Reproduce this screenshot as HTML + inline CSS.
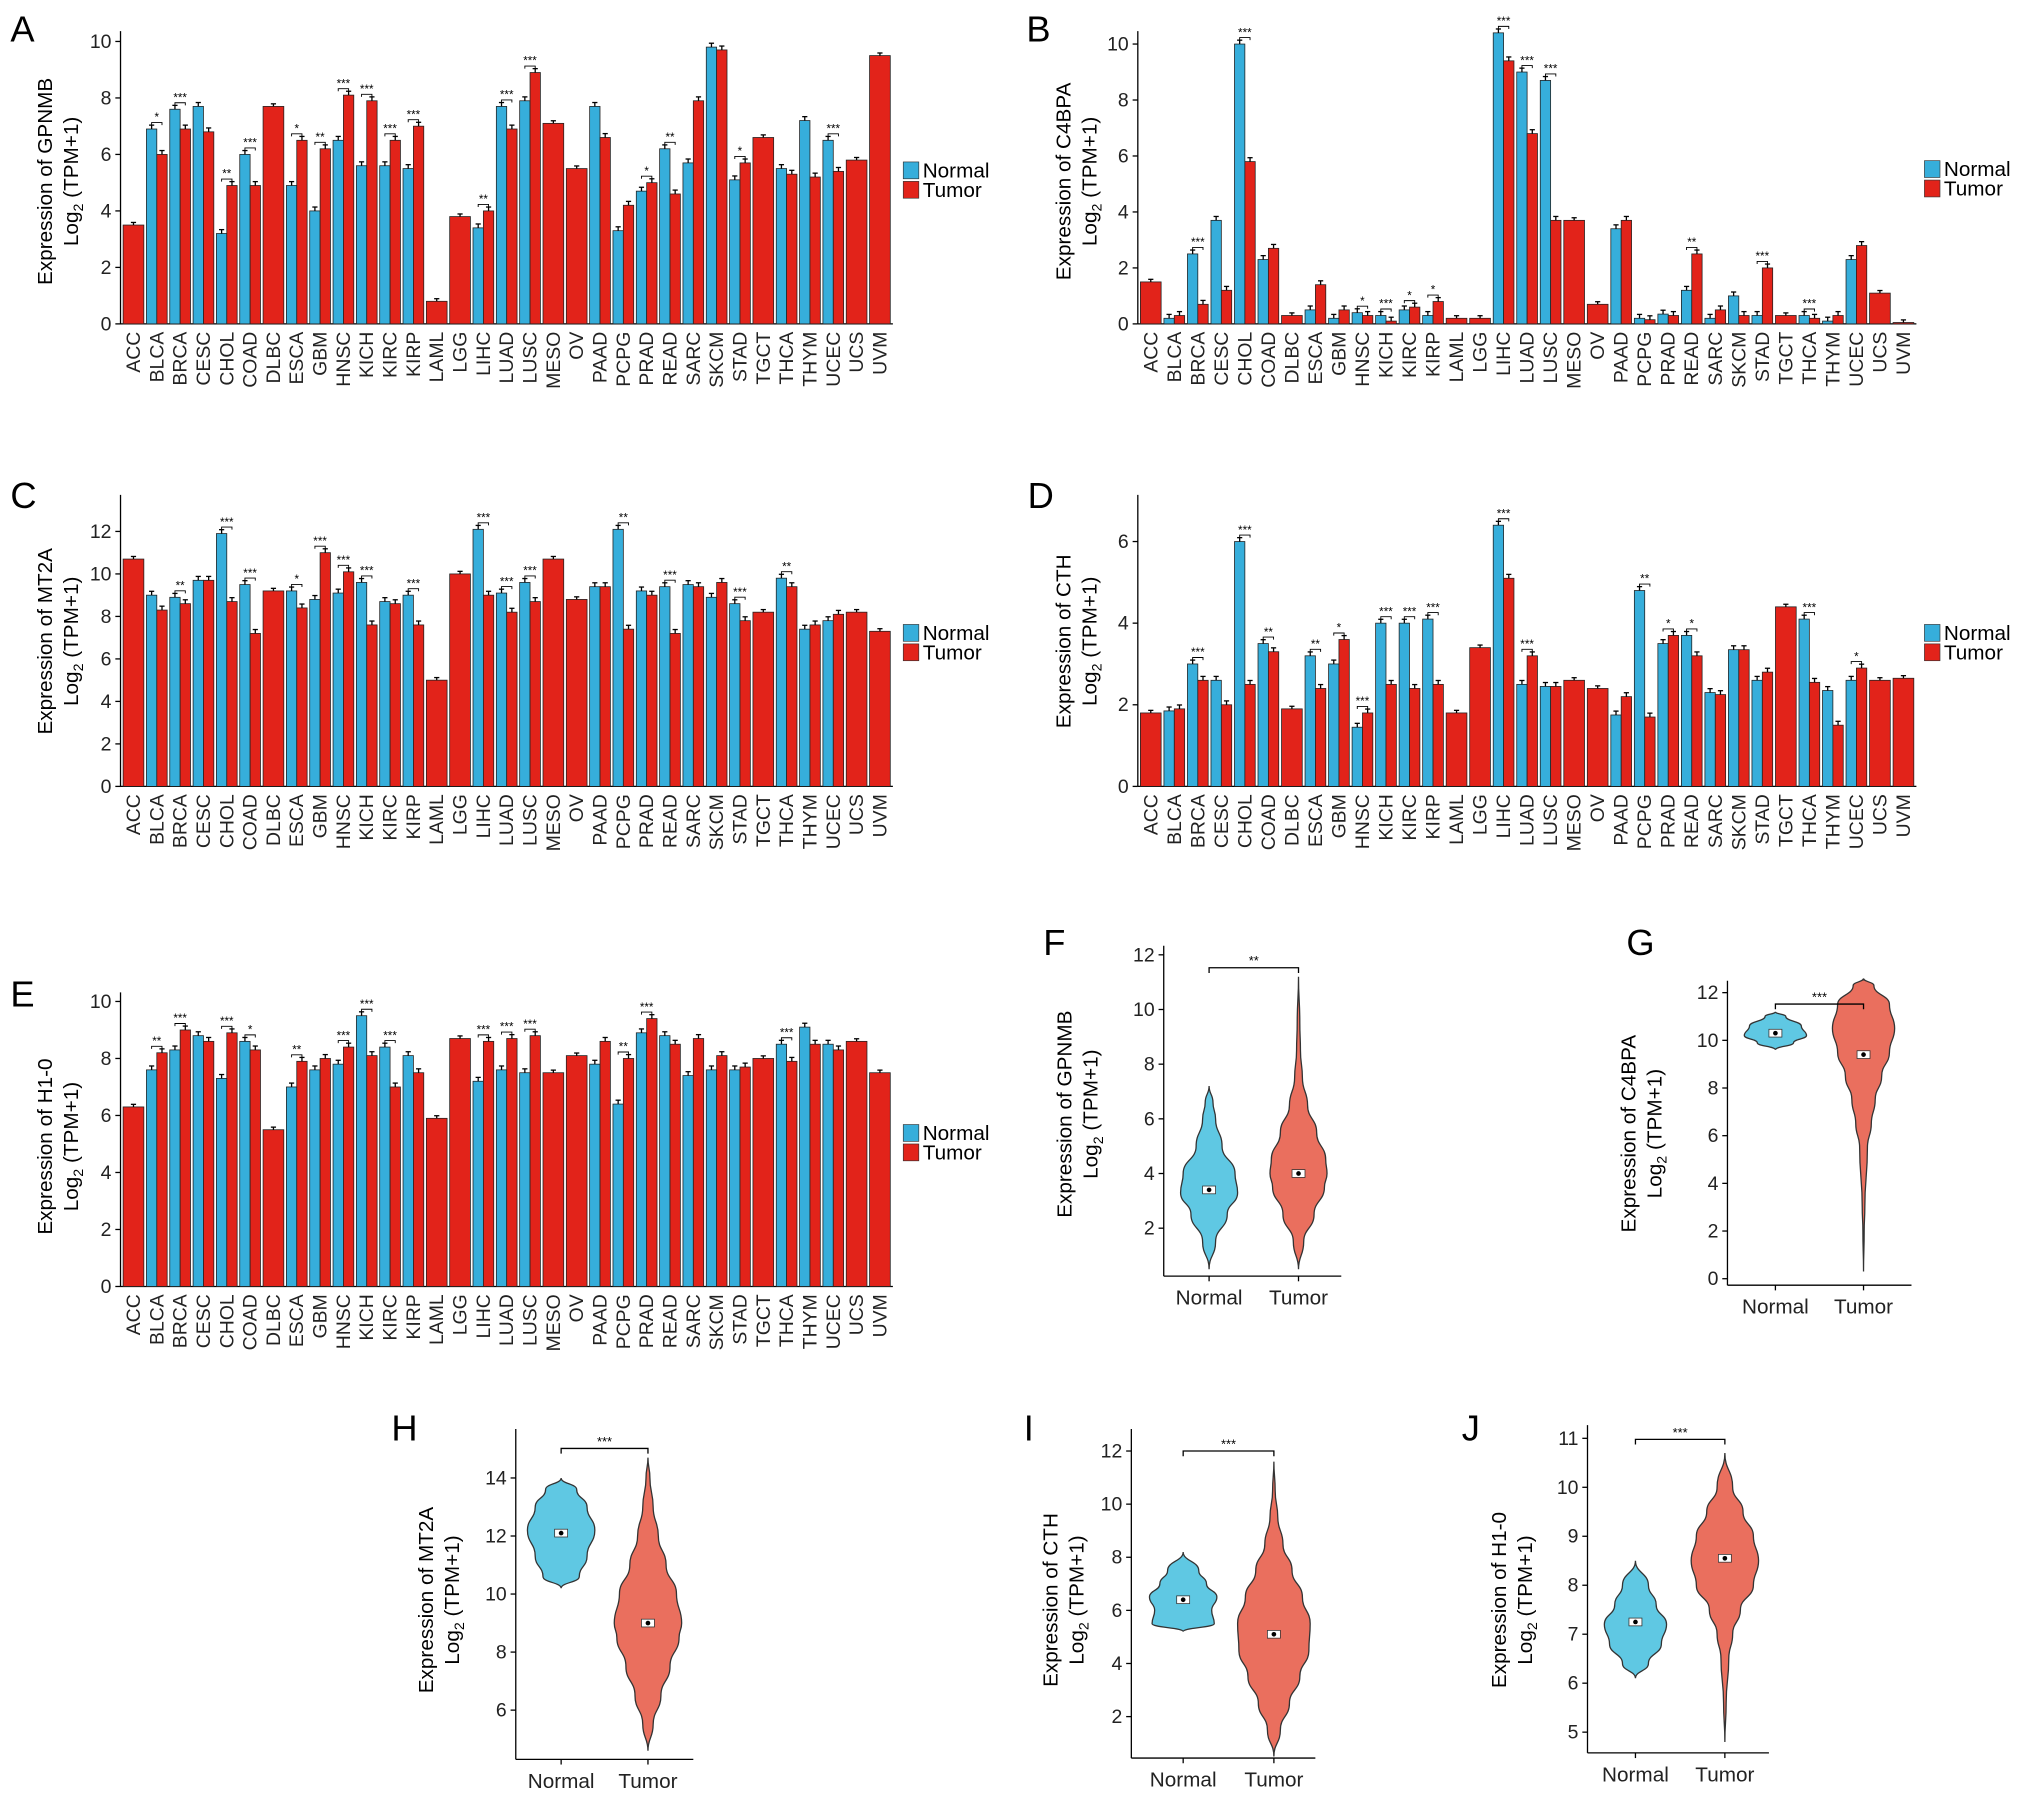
<!DOCTYPE html>
<html><head><meta charset="utf-8"><title>Expression panels</title>
<style>
html,body{margin:0;padding:0;background:#fff;}
svg{display:block;font-family:"Liberation Sans",Arial,sans-serif;}
</style></head>
<body>
<svg id="fig" width="2032" height="1806" viewBox="0 0 1568 1394" preserveAspectRatio="none" xmlns="http://www.w3.org/2000/svg"></svg>
<script>
const cats=["ACC","BLCA","BRCA","CESC","CHOL","COAD","DLBC","ESCA","GBM","HNSC","KICH","KIRC","KIRP","LAML","LGG","LIHC","LUAD","LUSC","MESO","OV","PAAD","PCPG","PRAD","READ","SARC","SKCM","STAD","TGCT","THCA","THYM","UCEC","UCS","UVM"];
const n=null;
// Panel A GPNMB
const aNormal=[n,6.9,7.6,7.7,3.2,6.0,n,4.9,4.0,6.5,5.6,5.6,5.5,n,n,3.4,7.7,7.9,n,n,7.7,3.3,4.7,6.2,5.7,9.8,5.1,n,5.5,7.2,6.5,n,n];
const aTumor=[3.5,6.0,6.9,6.8,4.9,4.9,7.7,6.5,6.2,8.1,7.9,6.5,7.0,0.8,3.8,4.0,6.9,8.9,7.1,5.5,6.6,4.2,5.0,4.6,7.9,9.7,5.7,6.6,5.3,5.2,5.4,5.8,9.5];
const aSig=["","*","***","","**","***","","*","**","***","***","***","***","","","**","***","***","","","","","*","**","","","*","","","","***","",""];
// Panel B C4BPA
const bNormal=[n,0.2,2.5,3.7,10.0,2.3,n,0.5,0.2,0.4,0.3,0.5,0.3,n,n,10.4,9.0,8.7,n,n,3.4,0.2,0.35,1.2,0.2,1.0,0.3,n,0.3,0.1,2.3,n,n];
const bTumor=[1.5,0.3,0.7,1.2,5.8,2.7,0.3,1.4,0.5,0.3,0.1,0.6,0.8,0.2,0.2,9.4,6.8,3.7,3.7,0.7,3.7,0.15,0.3,2.5,0.5,0.3,2.0,0.3,0.2,0.3,2.8,1.1,0.05];
const bSig=["","","***","","***","","","","","*","***","*","*","","","***","***","***","","","","","","**","","","***","","***","","","",""];
// Panel C MT2A
const cNormal=[n,9.0,8.9,9.7,11.9,9.5,n,9.2,8.8,9.1,9.6,8.7,9.0,n,n,12.1,9.1,9.6,n,n,9.4,12.1,9.2,9.4,9.5,8.9,8.6,n,9.8,7.4,7.8,n,n];
const cTumor=[10.7,8.3,8.6,9.7,8.7,7.2,9.2,8.4,11.0,10.1,7.6,8.6,7.6,5.0,10.0,9.0,8.2,8.7,10.7,8.8,9.4,7.4,9.0,7.2,9.4,9.6,7.8,8.2,9.4,7.6,8.1,8.2,7.3];
const cSig=["","","**","","***","***","","*","***","***","***","","***","","","***","***","***","","","","**","","***","","","***","","**","","","",""];
// Panel D CTH
const dNormal=[n,1.85,3.0,2.6,6.0,3.5,n,3.2,3.0,1.45,4.0,4.0,4.1,n,n,6.4,2.5,2.45,n,n,1.75,4.8,3.5,3.7,2.3,3.35,2.6,n,4.1,2.35,2.6,n,n];
const dTumor=[1.8,1.9,2.6,2.0,2.5,3.3,1.9,2.4,3.6,1.8,2.5,2.4,2.5,1.8,3.4,5.1,3.2,2.45,2.6,2.4,2.2,1.7,3.7,3.2,2.25,3.35,2.8,4.4,2.55,1.5,2.9,2.6,2.65];
const dSig=["","","***","","***","**","","**","*","***","***","***","***","","","***","***","","","","","**","*","*","","","","","***","","*","",""];
// Panel E H1-0
const eNormal=[n,7.6,8.3,8.8,7.3,8.6,n,7.0,7.6,7.8,9.5,8.4,8.1,n,n,7.2,7.6,7.5,n,n,7.8,6.4,8.9,8.8,7.4,7.6,7.6,n,8.5,9.1,8.5,n,n];
const eTumor=[6.3,8.2,9.0,8.6,8.9,8.3,5.5,7.9,8.0,8.4,8.1,7.0,7.5,5.9,8.7,8.6,8.7,8.8,7.5,8.1,8.6,8.0,9.4,8.5,8.7,8.1,7.7,8.0,7.9,8.5,8.3,8.6,7.5];
const eSig=["","**","***","","***","*","","**","","***","***","***","","","","***","***","***","","","","**","***","","","","","","***","","","",""];
const ticksA=[0,2,4,6,8,10], ticksB=[0,2,4,6,8,10], ticksC=[0,2,4,6,8,10,12], ticksD=[0,2,4,6], ticksE=[0,2,4,6,8,10];

// Violin data: value grid and relative widths
const fNv=[0.5,1.5,2.5,3.3,4,5,6,6.6,7.2], fNw=[0,5,14,22,20,10,5,3,0];
const fTv=[0.5,1.5,2.5,3.5,4,4.5,5.5,6.5,7.5,8.5,9.5,11.2], fTw=[0,4,12,20,22,21,14,7,3,1.5,1,0];
const gNv=[9.6,9.9,10.2,10.6,11,11.2], gNw=[0,14,24,20,8,0];
const gTv=[0.3,2,3,5.5,6.5,7.5,8.5,9.5,10.5,11.5,12.3,12.6], gTw=[0,0.5,1,3,6,9,14,20,24,20,8,0];
const hNv=[10.2,10.6,11.3,12.2,13,13.6,14], hNw=[0,14,20,26,20,12,0];
const hTv=[4.6,5.5,6.5,7.5,8.5,9,10,11,12,13,14,14.7], hTw=[0,4,10,17,24,26,22,14,8,4,1.5,0];
const iNv=[5.2,5.5,6,6.5,7,7.5,8.2], iNw=[0,24,22,26,18,12,0];
const iTv=[0.5,1.5,2.5,3.5,4.5,5.5,6.5,7.5,8.5,9.5,10.5,11.6], iTw=[0,5,12,20,27,28,22,14,7,3,1,0];
const jNv=[6.1,6.4,6.8,7.2,7.6,8,8.5], jNw=[0,10,20,24,16,10,0];
const jTv=[4.8,5.6,6.5,7,7.5,8,8.5,9,9.5,10,10.7], jTw=[0,1,3,6,12,22,26,22,14,6,0];
const medians={f:[3.4,4.0],g:[10.3,9.4],h:[12.1,9.0],i:[6.4,5.1],j:[7.25,8.55]};

const NS="http://www.w3.org/2000/svg";
const svg=document.getElementById('fig');
const BLUE="#36AEDB", RED="#E2231A", VBLUE="#5FC8E3", VRED="#EA6F5E";
function el(tag,attrs,parent){const e=document.createElementNS(NS,tag);for(const k in attrs)e.setAttribute(k,attrs[k]);(parent||svg).appendChild(e);return e;}
function txt(s,attrs,parent){const e=el('text',attrs,parent);e.textContent=s;return e;}

function yTitle(gene,x,yc,g){
  const t1=txt('Expression of '+gene,{x:0,y:0,'font-size':16,'text-anchor':'middle',transform:`translate(${x},${yc}) rotate(-90)`},g);
  
  
  const t2=el('text',{x:0,y:0,'font-size':16,'text-anchor':'middle',transform:`translate(${x+20},${yc}) rotate(-90)`},g);
  
  
  const a=document.createElementNS(NS,'tspan');a.textContent='Log';t2.appendChild(a);
  const b=document.createElementNS(NS,'tspan');b.textContent='2';b.setAttribute('font-size',11);b.setAttribute('dy',4);t2.appendChild(b);
  const c=document.createElementNS(NS,'tspan');c.textContent=' (TPM+1)';c.setAttribute('dy',-4);t2.appendChild(c);
}
function panelLetter(s,x,y){const t=txt(s,{x:x,y:y,'font-size':28});}
function legend(x,y,g){
  const lg=el('g',{},g);
  
  
  el('rect',{x:x,y:y,width:12,height:13,fill:BLUE,stroke:'#333','stroke-width':0.5},lg);
  txt('Normal',{x:x+15,y:y+12,'font-size':16},lg);
  el('rect',{x:x,y:y+15,width:12,height:13,fill:RED,stroke:'#333','stroke-width':0.5},lg);
  txt('Tumor',{x:x+15,y:y+27,'font-size':16},lg);
}

function barPanel(o){
  const g=el('g',{});
  
  
  const y=v=>o.y0-v*o.ppu;
  const step=o.step, bw=8;
  el('line',{x1:o.x0,y1:o.y0,x2:o.x0,y2:o.top,stroke:'#000','stroke-width':1},g);
  el('line',{x1:o.x0,y1:o.y0,x2:o.x0+20+step*32,y2:o.y0,stroke:'#000','stroke-width':1},g);
  o.ticks.forEach(t=>{
    el('line',{x1:o.x0-4,y1:y(t),x2:o.x0,y2:y(t),stroke:'#000'},g);
    const tl=txt(String(t),{x:o.x0-7,y:y(t)+5,'font-size':15,'text-anchor':'end',fill:'#222'},g);
    
    
  });
  cats.forEach((c,i)=>{
    const cx=o.x0+10+i*step;
    const nv=o.N[i], tv=o.T[i];
    if(nv===null){
      const r=el('rect',{x:cx-bw,y:y(tv),width:bw*2,height:tv*o.ppu,fill:RED,stroke:'#222','stroke-width':0.6},g);
      
      
      el('line',{x1:cx,y1:y(tv),x2:cx,y2:y(tv)-2,stroke:'#000'},g);
      el('line',{x1:cx-2,y1:y(tv)-2,x2:cx+2,y2:y(tv)-2,stroke:'#000'},g);
    } else {
      const r1=el('rect',{x:cx-bw,y:y(nv),width:bw,height:nv*o.ppu,fill:BLUE,stroke:'#222','stroke-width':0.6},g);
      
      
      const r2=el('rect',{x:cx,y:y(tv),width:bw,height:tv*o.ppu,fill:RED,stroke:'#222','stroke-width':0.6},g);
      
      
      [[cx-bw/2,nv],[cx+bw/2,tv]].forEach(([xx,v])=>{
        el('line',{x1:xx,y1:y(v),x2:xx,y2:y(v)-3,stroke:'#000'},g);
        el('line',{x1:xx-2,y1:y(v)-3,x2:xx+2,y2:y(v)-3,stroke:'#000'},g);
      });
      if(o.sig[i]){
        const top=y(Math.max(nv,tv))-5;
        el('path',{d:`M${cx-4},${top+2} V${top} H${cx+4} V${top+2}`,fill:'none',stroke:'#000','stroke-width':0.7},g);
        const s=txt(o.sig[i],{x:cx,y:top-1,'font-size':9,'text-anchor':'middle'},g);
        
        
      }
    }
    const cl=txt(c,{x:0,y:0,'font-size':15,'text-anchor':'end',fill:'#222',transform:`translate(${cx+5},${o.y0+6}) rotate(-90)`},g);
    
    
  });
  yTitle(o.gene,o.titleX,o.titleY,g);
  legend(o.legX,o.legY,g);
}

barPanel({gene:'GPNMB',x0:93,y0:250,ppu:21.8,top:24,step:18,ticks:ticksA,N:aNormal,T:aTumor,sig:aSig,titleX:40,titleY:140,legX:697,legY:125});
barPanel({gene:'C4BPA',x0:878,y0:250,ppu:21.6,top:24,step:18.15,ticks:ticksB,N:bNormal,T:bTumor,sig:bSig,titleX:826,titleY:140,legX:1485,legY:124});
barPanel({gene:'MT2A',x0:93,y0:607,ppu:16.4,top:382,step:18,ticks:ticksC,N:cNormal,T:cTumor,sig:cSig,titleX:40,titleY:495,legX:697,legY:482});
barPanel({gene:'CTH',x0:878,y0:607,ppu:31.5,top:382,step:18.15,ticks:ticksD,N:dNormal,T:dTumor,sig:dSig,titleX:826,titleY:495,legX:1485,legY:482});
barPanel({gene:'H1-0',x0:93,y0:993,ppu:22,top:766,step:18,ticks:ticksE,N:eNormal,T:eTumor,sig:eSig,titleX:40,titleY:885,legX:697,legY:868});

function violin(g,cx,vals,ws,y,fill){
  let right=vals.map((v,k)=>[cx+ws[k],y(v)]);
  let left=vals.map((v,k)=>[cx-ws[k],y(v)]).reverse();
  const pts=right.concat(left);
  let d='M'+pts[0][0]+','+pts[0][1];
  for(let k=1;k<pts.length;k++){const p=pts[k-1],q=pts[k];const my=(p[1]+q[1])/2;d+=` C${p[0]},${my} ${q[0]},${my} ${q[0]},${q[1]}`;}
  const p=el('path',{d:d+'Z',fill:fill,stroke:'#333','stroke-width':1},g);
  return p;
}
function violinPanel(o){
  const g=el('g',{});
  
  
  const y=v=>o.yBase-(v-o.vBase)*o.ppu;
  el('line',{x1:o.x0,y1:o.axisBottom,x2:o.x0,y2:o.axisTop,stroke:'#000'},g);
  el('line',{x1:o.x0,y1:o.axisBottom,x2:o.xEnd,y2:o.axisBottom,stroke:'#000'},g);
  o.ticks.forEach(t=>{
    el('line',{x1:o.x0-4,y1:y(t),x2:o.x0,y2:y(t),stroke:'#000'},g);
    const tl=txt(String(t),{x:o.x0-7,y:y(t)+5,'font-size':15,'text-anchor':'end',fill:'#222'},g);
    
    
  });
  const vn=violin(g,o.nx,o.Nv,o.Nw,y,VBLUE);
  
  
  const vt=violin(g,o.tx,o.Tv,o.Tw,y,VRED);
  
  
  [[o.nx,o.med[0]],[o.tx,o.med[1]]].forEach(([x,m])=>{
    el('rect',{x:x-5,y:y(m)-3,width:10,height:6,fill:'#fff',stroke:'#333','stroke-width':0.6},g);
    el('circle',{cx:x,cy:y(m),r:1.8,fill:'#000'},g);
  });
  [[o.nx,'Normal'],[o.tx,'Tumor']].forEach(([x,s])=>{
    el('line',{x1:x,y1:o.axisBottom,x2:x,y2:o.axisBottom+4,stroke:'#000'},g);
    const l=txt(s,{x:x,y:o.axisBottom+22,'font-size':16,'text-anchor':'middle',fill:'#222'},g);
    
    
  });
  el('path',{d:`M${o.nx},${o.sigY+4} V${o.sigY} H${o.tx} V${o.sigY+4}`,fill:'none',stroke:'#000','stroke-width':1},g);
  const s=txt(o.sig,{x:(o.nx+o.tx)/2,y:o.sigY-2,'font-size':10,'text-anchor':'middle'},g);
  
  
  yTitle(o.gene,o.titleX,o.titleY,g);
}
violinPanel({gene:'GPNMB',x0:898,xEnd:1035,axisTop:730,axisBottom:985,yBase:948,vBase:2,ppu:21.1,ticks:[2,4,6,8,10,12],nx:933,tx:1002,Nv:fNv,Nw:fNw,Tv:fTv,Tw:fTw,med:medians.f,sigY:747,sig:'**',titleX:827,titleY:860});
violinPanel({gene:'C4BPA',x0:1333,xEnd:1475,axisTop:757,axisBottom:992,yBase:987,vBase:0,ppu:18.4,ticks:[0,2,4,6,8,10,12],nx:1370,tx:1438,Nv:gNv,Nw:gNw,Tv:gTv,Tw:gTw,med:medians.g,sigY:775,sig:'***',titleX:1262,titleY:875});
violinPanel({gene:'MT2A',x0:398,xEnd:535,axisTop:1103,axisBottom:1358,yBase:1320,vBase:6,ppu:22.4,ticks:[6,8,10,12,14],nx:433,tx:500,Nv:hNv,Nw:hNw,Tv:hTv,Tw:hTw,med:medians.h,sigY:1118,sig:'***',titleX:334,titleY:1235});
violinPanel({gene:'CTH',x0:873,xEnd:1015,axisTop:1103,axisBottom:1357,yBase:1325,vBase:2,ppu:20.5,ticks:[2,4,6,8,10,12],nx:913,tx:983,Nv:iNv,Nw:iNw,Tv:iTv,Tw:iTw,med:medians.i,sigY:1120,sig:'***',titleX:816,titleY:1235});
violinPanel({gene:'H1-0',x0:1225,xEnd:1365,axisTop:1100,axisBottom:1353,yBase:1337,vBase:5,ppu:37.8,ticks:[5,6,7,8,9,10,11],nx:1262,tx:1331,Nv:jNv,Nw:jNw,Tv:jTv,Tw:jTw,med:medians.j,sigY:1111,sig:'***',titleX:1162,titleY:1235});

panelLetter('A',8,32);panelLetter('B',792,32);panelLetter('C',8,392);panelLetter('D',793,392);
panelLetter('E',8,777);panelLetter('F',805,737);panelLetter('G',1255,737);
panelLetter('H',302,1112);panelLetter('I',790,1112);panelLetter('J',1128,1112);
</script>
</body></html>
